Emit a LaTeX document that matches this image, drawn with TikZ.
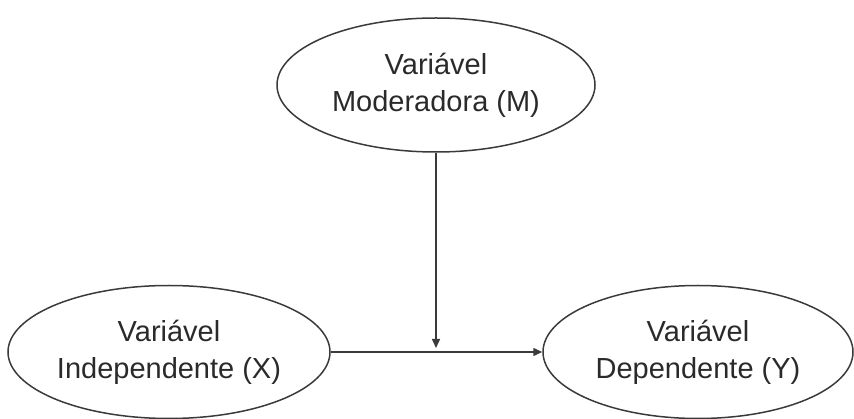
\documentclass[tikz,border=0pt]{standalone}
\usepackage{fontspec}
\setmainfont{Liberation Sans}
\usetikzlibrary{shapes.geometric,arrows.meta}
\definecolor{inkline}{HTML}{3A3A3A}
\definecolor{inktext}{HTML}{2A2A2A}
\begin{document}
\begin{tikzpicture}[x=1pt,y=-1pt,
  varbox/.style={ellipse,draw=inkline,line width=1.5pt,inner sep=0pt,
    align=center,text=inktext,
    font=\fontsize{29}{37}\selectfont},
  link/.style={draw=inkline,line width=1.5pt,
    -{Triangle[length=9pt,width=8pt]}}]
  \useasboundingbox (0,0) rectangle (854,419);
  \node[varbox,minimum width=318pt,minimum height=134pt] (M) at (436,85)
    {Variável\\Moderadora (M)};
  \node[varbox,minimum width=322pt,minimum height=133pt] (X) at (169,352)
    {Variável\\Independente (X)};
  \node[varbox,minimum width=310pt,minimum height=133pt] (Y) at (698,352)
    {Variável\\Dependente (Y)};
  \coordinate (J) at (M.south |- X.center);
  \draw[link] (X) -- (Y);
  \draw[link,shorten >=4pt] (M.south) -- (J);
\end{tikzpicture}
\end{document}
